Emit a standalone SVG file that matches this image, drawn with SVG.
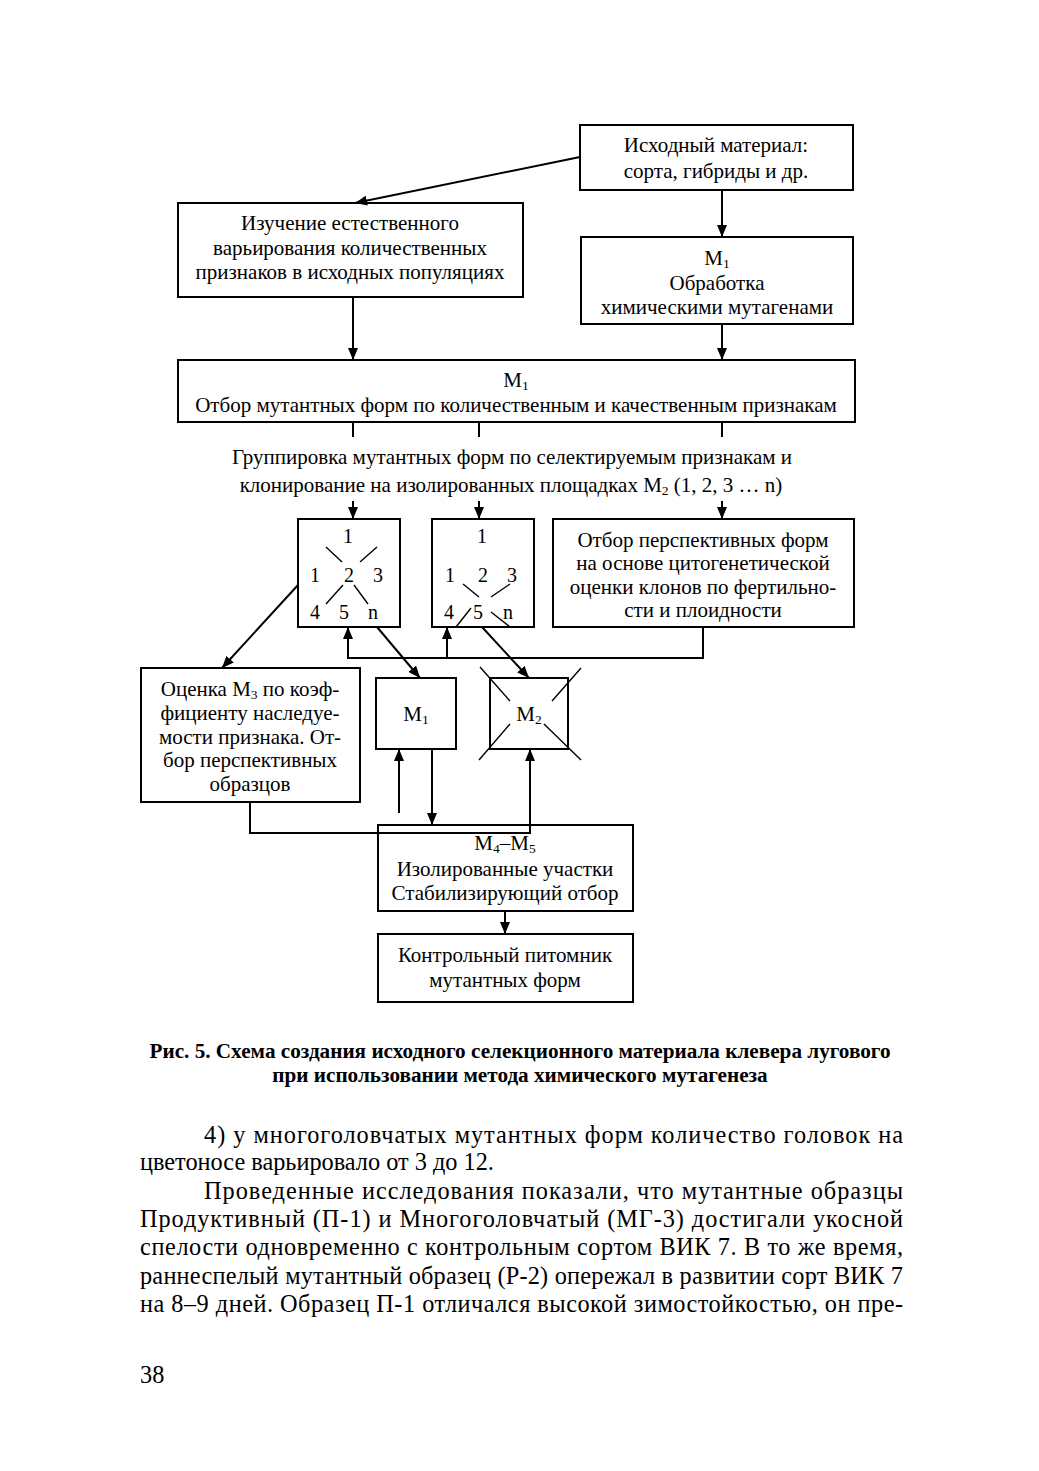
<svg xmlns="http://www.w3.org/2000/svg" width="1039" height="1471" viewBox="0 0 1039 1471">
<defs>
<marker id="ah" markerWidth="12" markerHeight="10" refX="12" refY="5" orient="auto" markerUnits="userSpaceOnUse"><path d="M0,0 L12,5 L0,10 z" fill="#000"/></marker>
<style>
.box{fill:#fff;stroke:#000;stroke-width:2}
.t{font-family:"Liberation Serif","Times New Roman",serif;font-size:21px;fill:#000;text-anchor:middle}
.n{font-family:"Liberation Serif","Times New Roman",serif;font-size:20px;fill:#000;text-anchor:middle}
.cap{font-family:"Liberation Serif","Times New Roman",serif;font-size:21.2px;font-weight:bold;fill:#000;text-anchor:middle}
.b{font-family:"Liberation Serif","Times New Roman",serif;font-size:24.3px;fill:#000}
.c{fill:none;stroke:#000;stroke-width:2}
.d{fill:none;stroke:#000;stroke-width:1.4}
.s{font-size:13.5px}
</style>
</defs>
<rect width="1039" height="1471" fill="#fff"/>

<g id="n-source">
<rect class="box" x="580" y="125" width="273" height="65"/>
<text class="t" x="716" y="152">Исходный материал:</text>
<text class="t" x="716" y="178">сорта, гибриды и др.</text>
</g>

<g id="n-study">
<rect class="box" x="178" y="203" width="345" height="94"/>
<text class="t" x="350" y="230">Изучение естественного</text>
<text class="t" x="350" y="255">варьирования количественных</text>
<text class="t" x="350" y="279">признаков в исходных популяциях</text>
</g>

<g id="n-treat">
<rect class="box" x="581" y="237" width="272" height="87"/>
<text class="t" x="717" y="265">M<tspan class="s" dy="3">1</tspan></text>
<text class="t" x="717" y="290">Обработка</text>
<text class="t" x="717" y="314">химическими мутагенами</text>
</g>

<g id="n-select">
<rect class="box" x="178" y="360" width="677" height="62"/>
<text class="t" x="516" y="387">M<tspan class="s" dy="3">1</tspan></text>
<text class="t" x="516" y="412">Отбор мутантных форм по количественным и качественным признакам</text>
</g>

<g id="n-grouping">
<text class="t" x="512" y="464">Группировка мутантных форм по селектируемым признакам и</text>
<text class="t" x="511" y="492">клонирование на изолированных площадках M<tspan class="s" dy="3">2</tspan><tspan dy="-3"> (1, 2, 3 … n)</tspan></text>
</g>

<g id="n-clone1">
<rect class="box" x="298" y="519" width="102" height="108"/>
<text class="n" x="348" y="543">1</text>
<text class="n" x="315" y="582">1</text>
<text class="n" x="349" y="582">2</text>
<text class="n" x="378" y="582">3</text>
<text class="n" x="315" y="619">4</text>
<text class="n" x="344" y="619">5</text>
<text class="n" x="373" y="619">n</text>
<line class="d" x1="326" y1="547" x2="342" y2="562"/>
<line class="d" x1="377" y1="547" x2="360" y2="562"/>
<line class="d" x1="343" y1="585" x2="326" y2="604"/>
<line class="d" x1="354" y1="585" x2="368" y2="604"/>
</g>

<g id="n-clone2">
<rect class="box" x="432" y="519" width="102" height="108"/>
<text class="n" x="482" y="543">1</text>
<text class="n" x="450" y="582">1</text>
<text class="n" x="483" y="582">2</text>
<text class="n" x="512" y="582">3</text>
<text class="n" x="449" y="619">4</text>
<text class="n" x="478" y="619">5</text>
<text class="n" x="508" y="619">n</text>
<line class="d" x1="463" y1="584" x2="479" y2="597"/>
<line class="d" x1="510" y1="584" x2="491" y2="597"/>
<line class="d" x1="471" y1="608" x2="456" y2="627"/>
<line class="d" x1="491" y1="612" x2="510" y2="627"/>
</g>

<g id="n-cyto">
<rect class="box" x="553" y="519" width="301" height="108"/>
<text class="t" x="703" y="547">Отбор перспективных форм</text>
<text class="t" x="703" y="570">на основе цитогенетической</text>
<text class="t" x="703" y="594">оценки клонов по фертильно-</text>
<text class="t" x="703" y="617">сти и плоидности</text>
</g>

<g id="n-m3">
<rect class="box" x="141" y="668" width="219" height="134"/>
<text class="t" x="250" y="696">Оценка M<tspan class="s" dy="3">3</tspan><tspan dy="-3"> по коэф-</tspan></text>
<text class="t" x="250" y="720">фициенту наследуе-</text>
<text class="t" x="250" y="744">мости признака. От-</text>
<text class="t" x="250" y="767">бор перспективных</text>
<text class="t" x="250" y="791">образцов</text>
</g>

<g id="n-m1">
<rect class="box" x="376" y="678" width="80" height="71"/>
<text class="t" x="416" y="721">M<tspan class="s" dy="3">1</tspan></text>
</g>

<g id="n-m2">
<rect class="box" x="490" y="678" width="78" height="71"/>
<line class="d" x1="480" y1="667" x2="510" y2="701"/>
<line class="d" x1="544" y1="724" x2="581" y2="760"/>
<line class="d" x1="581" y1="668" x2="552" y2="701"/>
<line class="d" x1="510" y1="724" x2="479" y2="760"/>
<text class="t" x="529" y="721">M<tspan class="s" dy="3">2</tspan></text>
</g>

<g id="n-m45">
<rect class="box" x="378" y="825" width="255" height="86"/>
<text class="t" x="505" y="850">M<tspan class="s" dy="3">4</tspan><tspan dy="-3">–M</tspan><tspan class="s" dy="3">5</tspan></text>
<text class="t" x="505" y="876">Изолированные участки</text>
<text class="t" x="505" y="900">Стабилизирующий отбор</text>
</g>

<g id="n-control">
<rect class="box" x="378" y="934" width="255" height="68"/>
<text class="t" x="505" y="962">Контрольный питомник</text>
<text class="t" x="505" y="987">мутантных форм</text>
</g>

<g id="connectors">
<line class="c" x1="580" y1="157" x2="355" y2="203" marker-end="url(#ah)"/>
<line class="c" x1="722" y1="190" x2="722" y2="237" marker-end="url(#ah)"/>
<line class="c" x1="353" y1="297" x2="353" y2="360" marker-end="url(#ah)"/>
<line class="c" x1="722" y1="324" x2="722" y2="360" marker-end="url(#ah)"/>
<line class="c" x1="353" y1="422" x2="353" y2="437"/>
<line class="c" x1="479" y1="422" x2="479" y2="437"/>
<line class="c" x1="722" y1="422" x2="722" y2="437"/>
<line class="c" x1="353" y1="501" x2="353" y2="519" marker-end="url(#ah)"/>
<line class="c" x1="479" y1="501" x2="479" y2="519" marker-end="url(#ah)"/>
<line class="c" x1="722" y1="501" x2="722" y2="519" marker-end="url(#ah)"/>
<line class="c" x1="298" y1="585" x2="222" y2="668" marker-end="url(#ah)"/>
<line class="c" x1="377" y1="627" x2="420" y2="678" marker-end="url(#ah)"/>
<line class="c" x1="482" y1="627" x2="529" y2="678" marker-end="url(#ah)"/>
<path class="c" d="M703,627 V658 H348 V627" stroke-width="2.5" marker-end="url(#ah)"/>
<line class="c" x1="447" y1="658" x2="447" y2="627" marker-end="url(#ah)"/>
<line class="c" x1="399" y1="813" x2="399" y2="749" marker-end="url(#ah)"/>
<line class="c" x1="432" y1="749" x2="432" y2="825" marker-end="url(#ah)"/>
<path class="c" d="M250,802 V833 H530 V749" marker-end="url(#ah)"/>
<line class="c" x1="505" y1="911" x2="505" y2="934" marker-end="url(#ah)"/>
</g>

<g id="caption">
<text class="cap" x="520" y="1058">Рис. 5. Схема создания исходного селекционного материала клевера лугового</text>
<text class="cap" x="520" y="1082">при использовании метода химического мутагенеза</text>
</g>

<g id="body">
<text class="b" x="204" y="1143" textLength="699" lengthAdjust="spacing">4) у многоголовчатых мутантных форм количество головок на</text>
<text class="b" x="140" y="1170">цветоносе варьировало от 3 до 12.</text>
<text class="b" x="204" y="1199" textLength="699" lengthAdjust="spacing">Проведенные исследования показали, что мутантные образцы</text>
<text class="b" x="140" y="1227" textLength="763" lengthAdjust="spacing">Продуктивный (П-1) и Многоголовчатый (МГ-3) достигали укосной</text>
<text class="b" x="140" y="1255" textLength="763" lengthAdjust="spacing">спелости одновременно с контрольным сортом ВИК 7. В то же время,</text>
<text class="b" x="140" y="1284" textLength="763" lengthAdjust="spacing">раннеспелый мутантный образец (Р-2) опережал в развитии сорт ВИК 7</text>
<text class="b" x="140" y="1312" textLength="763" lengthAdjust="spacing">на 8–9 дней. Образец П-1 отличался высокой зимостойкостью, он пре-</text>
<text class="b" x="140" y="1383">38</text>
</g>
</svg>
